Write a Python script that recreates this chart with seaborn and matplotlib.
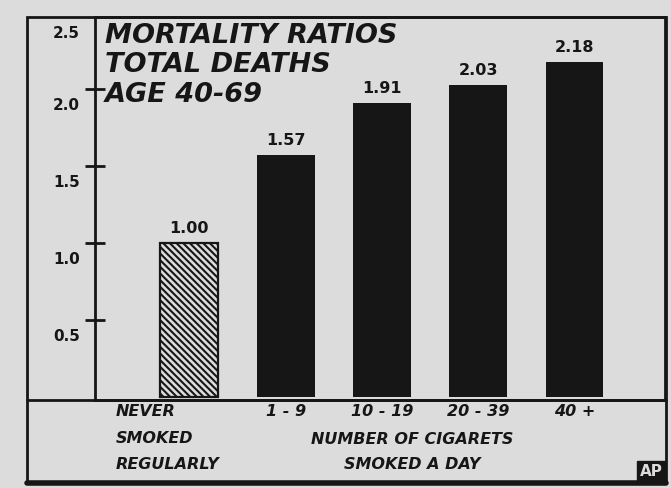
import seaborn as sns
import matplotlib.pyplot as plt
import matplotlib.transforms as mtransforms
import pandas as pd

# values read from the clipping
categories = ['NEVER\nSMOKED\nREGULARLY', '1 - 9', '10 - 19', '20 - 39', '40 +']
ratios = [1.00, 1.57, 1.91, 2.03, 2.18]
value_labels = ['1.00', '1.57', '1.91', '2.03', '2.18']
ytick_values = [0.5, 1.0, 1.5, 2.0, 2.5]
ytick_labels = ['0.5', '1.0', '1.5', '2.0', '2.5']
title_lines = ['MORTALITY RATIOS', 'TOTAL DEATHS', 'AGE 40-69']
xlabel_lines = ['NUMBER OF CIGARETS', 'SMOKED A DAY']

paper = '#dcdcdc'
ink = '#161616'

sns.set_theme(style='white')
plt.rcParams['font.family'] = ['DejaVu Sans']
plt.rcParams['hatch.linewidth'] = 1.5

df = pd.DataFrame({'group': categories, 'ratio': ratios})

fig = plt.figure(figsize=(6.71, 4.88), dpi=100, facecolor=paper)
W, H = 671, 488
ax = fig.add_axes([95 / W, (H - 400) / H, 570 / W, 383 / H])
ax.set_facecolor(paper)

sns.barplot(data=df, x='group', y='ratio', color=ink, width=0.6,
            saturation=1, linewidth=0, ax=ax)

# the non-smokers bar is hatched
p0 = ax.patches[0]
p0.set_facecolor(paper)
p0.set_edgecolor(ink)
p0.set_hatch('\\\\\\\\\\')
p0.set_linewidth(1.6)

ax.set_xlim(-0.98, 4.94)
ax.set_ylim(-0.02, 2.47)

for s in ax.spines.values():
    s.set_color(ink)
    s.set_linewidth(2)

# value labels over bars
for i, (v, lab) in enumerate(zip(ratios, value_labels)):
    ax.annotate(lab, (i, v), xytext=(0, 5), textcoords='offset points',
                ha='center', va='bottom', fontsize=11.5, fontweight='bold',
                color=ink)

# y ticks crossing the axis, labels drawn a little below
ax.set_yticks([v for v in ytick_values if v < 2.4])
ax.set_yticklabels([])
ax.tick_params(axis='y', direction='inout', length=15, width=2, color=ink,
               left=True)
top = ax.get_ylim()[1]
lab_tr = mtransforms.offset_copy(ax.get_yaxis_transform(), fig=fig,
                                 x=-15, y=-16, units='dots')
for v, lab in zip(ytick_values, ytick_labels):
    yv = min(v, top)
    ax.text(0, yv, lab, transform=lab_tr, ha='right', va='center',
            fontsize=11, fontweight='bold', color=ink, clip_on=False)

# category labels
ax.set_xlabel('')
ax.set_ylabel('')
ax.tick_params(axis='x', length=0, pad=3)
for t in ax.get_xticklabels():
    t.set_fontsize(11.5)
    t.set_fontweight('bold')
    t.set_fontstyle('italic')
    t.set_color(ink)
    t.set_verticalalignment('top')
    t.set_linespacing(1.95)
first = ax.get_xticklabels()[0]
first.set_multialignment('left')
first.set_transform(first.get_transform() +
                    mtransforms.ScaledTranslation(-0.22, 0, fig.dpi_scale_trans))

# title block in the upper left of the plot, one line at a time
for line, yc in zip(title_lines, [36, 65, 95]):
    ax.text(0.018, (400 - yc) / 383, line, transform=ax.transAxes,
            ha='left', va='center', fontsize=19.5, fontweight='bold',
            fontstyle='italic', color=ink)

fig.text(412 / W, 1 - 452 / H, '\n'.join(xlabel_lines), ha='center',
         va='center', fontsize=11.5, fontweight='bold', fontstyle='italic',
         color=ink, linespacing=1.9)

# outer frame of the clipping
frame = plt.Rectangle((27 / W, 1 - 483 / H), (666 - 27) / W, (483 - 17) / H,
                      transform=fig.transFigure, fill=False, edgecolor=ink,
                      linewidth=2)
fig.add_artist(frame)
fig.add_artist(plt.Line2D([27 / W, 666 / W], [1 - 400 / H, 1 - 400 / H],
                          transform=fig.transFigure, color=ink, linewidth=2))
fig.add_artist(plt.Line2D([27 / W, 666 / W], [1 - 483 / H, 1 - 483 / H],
                          transform=fig.transFigure, color=ink, linewidth=4))

# AP credit mark
fig.text(651 / W, 1 - 471 / H, 'AP', ha='center', va='center', fontsize=11,
         fontweight='bold', color=paper,
         bbox=dict(boxstyle='square,pad=0.15', facecolor=ink, edgecolor=ink))

fig.savefig('out.png', dpi=100, facecolor=paper)
